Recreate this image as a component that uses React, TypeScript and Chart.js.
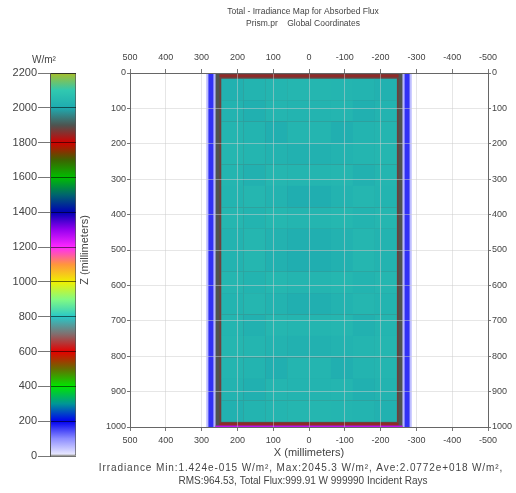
import React, { useEffect, useRef } from 'react';
import { Chart, registerables } from 'chart.js';

Chart.register(...registerables);

// ---------- texts ----------
const titleLines = ['Total - Irradiance Map for Absorbed Flux', 'Prism.pr    Global Coordinates'];
const footerLines = [
  'Irradiance Min:1.424e-015 W/m², Max:2045.3 W/m², Ave:2.0772e+018 W/m²,',
  'RMS:964.53, Total Flux:999.91 W 999990 Incident Rays',
];
const xAxisTitle = 'X (millimeters)';
const zAxisTitle = 'Z (millimeters)';
const colorbarUnit = 'W/m²';

// ---------- axes ----------
const xRange = [-500, 500];
const zRange = [0, 1000];
const xStep = 100;
const zStep = 100;
const colorbarRange = [0, 2200];
const colorbarStep = 200;

// ---------- colormap (irradiance W/m²) ----------
const colormapValues = [0, 100, 200, 300, 400, 500, 600, 700, 800, 900, 1000, 1100, 1200, 1300, 1400, 1500, 1600, 1700, 1800, 1900, 2000, 2100, 2200];
const colormapColors = [
  '#f2f2ff', '#8c8cff', '#0000f0', '#009696', '#00e600', '#646e00', '#e60000', '#826e6e',
  '#28c8c8', '#82fa82', '#f0f000', '#ff963c', '#ff28ff', '#9600f0', '#0000b4', '#00646e',
  '#00be00', '#3c6400', '#d20000', '#4e5450', '#1eabb0', '#30c8b0', '#aabe28',
];

// ---------- irradiance map data (mm, W/m²) ----------
// Nested vertical bands (half-width in X), each spanning a Z range, with a value
const bandHalfWidths = [287, 281, 267, 261, 250];
const bandZStart = [0, 0, 0, 0, 4];
const bandZEnd = [1000, 1000, 1000, 1000, 996];
const bandValues = [50, 165, 60, 1900, 1875];
// Red dotted edges along top and bottom of the detector
const edgeHalfWidth = 250;
const edgeZStart = [4, 989];
const edgeZEnd = [11, 996];
const edgeValues = [1850, 1850];
// Bottom edge strip
const bottomStripHalfWidth = 261;
const bottomStripZ = [996, 1000];
const bottomStripValue = 1260;
// Interior detector region
const interiorHalfWidth = 245;
const interiorZ = [16, 985];
const interiorValues = [
  [2020, 2030, 2035, 2038, 2038, 2035, 2030, 2020],
  [2028, 2018, 2035, 2030, 2030, 2035, 2018, 2028],
  [2035, 2030, 2015, 2035, 2035, 2015, 2030, 2035],
  [2038, 2035, 2028, 2020, 2020, 2028, 2035, 2038],
  [2035, 2022, 2038, 2035, 2035, 2038, 2022, 2035],
  [2030, 2038, 2028, 2012, 2012, 2028, 2038, 2030],
  [2038, 2030, 2040, 2035, 2035, 2040, 2030, 2038],
  [2028, 2038, 2025, 2015, 2015, 2025, 2038, 2028],
  [2028, 2038, 2022, 2012, 2012, 2022, 2038, 2028],
  [2038, 2030, 2040, 2035, 2035, 2040, 2030, 2038],
  [2030, 2038, 2028, 2015, 2015, 2028, 2038, 2030],
  [2035, 2022, 2038, 2035, 2035, 2038, 2022, 2035],
  [2038, 2035, 2028, 2020, 2020, 2028, 2035, 2038],
  [2035, 2030, 2015, 2035, 2035, 2015, 2030, 2035],
  [2028, 2018, 2035, 2030, 2030, 2035, 2018, 2028],
  [2020, 2030, 2035, 2038, 2038, 2035, 2030, 2020],
];

// ---------- helpers ----------
const FONT = '"Liberation Sans", Arial, sans-serif';
const TEXT = '#444';

function hexToRgb(h: string): number[] {
  const n = parseInt(h.slice(1), 16);
  return [(n >> 16) & 255, (n >> 8) & 255, n & 255];
}
function colorFor(v: number): string {
  const vs = colormapValues;
  if (v <= vs[0]) return colormapColors[0];
  for (let i = 1; i < vs.length; i++) {
    if (v <= vs[i]) {
      const t = (v - vs[i - 1]) / (vs[i] - vs[i - 1]);
      const a = hexToRgb(colormapColors[i - 1]);
      const b = hexToRgb(colormapColors[i]);
      const c = a.map((av, k) => Math.round(av + (b[k] - av) * t));
      return `rgb(${c[0]},${c[1]},${c[2]})`;
    }
  }
  return colormapColors[colormapColors.length - 1];
}

const mapPlugin = {
  id: 'irradianceMap',
  beforeDraw(chart: any) {
    const { ctx, chartArea: a } = chart;
    const x = chart.scales.x;
    const y = chart.scales.y;
    ctx.save();
    ctx.beginPath();
    ctx.rect(a.left, a.top, a.right - a.left, a.bottom - a.top);
    ctx.clip();
    const rect = (x1: number, x2: number, z1: number, z2: number, v: number) => {
      const px1 = x.getPixelForValue(x1);
      const px2 = x.getPixelForValue(x2);
      const py1 = y.getPixelForValue(z1);
      const py2 = y.getPixelForValue(z2);
      ctx.fillStyle = colorFor(v);
      ctx.fillRect(Math.min(px1, px2), Math.min(py1, py2), Math.abs(px2 - px1), Math.abs(py2 - py1));
    };
    bandHalfWidths.forEach((hw, i) => rect(hw, -hw, bandZStart[i], bandZEnd[i], bandValues[i]));
    edgeValues.forEach((v, i) => rect(edgeHalfWidth, -edgeHalfWidth, edgeZStart[i], edgeZEnd[i], v));
    rect(bottomStripHalfWidth, -bottomStripHalfWidth, bottomStripZ[0], bottomStripZ[1], bottomStripValue);
    const rows = interiorValues.length;
    const cols = interiorValues[0].length;
    const dz = (interiorZ[1] - interiorZ[0]) / rows;
    const dx = (2 * interiorHalfWidth) / cols;
    for (let r = 0; r < rows; r++) {
      for (let c = 0; c < cols; c++) {
        const x1 = interiorHalfWidth - c * dx;
        const z1 = interiorZ[0] + r * dz;
        rect(x1, x1 - dx - 0.5, z1, z1 + dz + 0.5, interiorValues[r][c]);
      }
    }
    ctx.restore();
  },
};

const textPlugin = {
  id: 'texts',
  afterDraw(chart: any) {
    const { ctx } = chart;
    ctx.save();
    ctx.fillStyle = TEXT;
    ctx.textAlign = 'center';
    ctx.textBaseline = 'middle';
    const cx = 303;
    ctx.font = `8.5px ${FONT}`;
    ctx.fillText(titleLines[0], cx, 12);
    ctx.fillText(titleLines[1], cx, 24);
    ctx.font = `10px ${FONT}`;
    (ctx as any).letterSpacing = '0.9px';
    ctx.fillText(footerLines[0], 301, 468);
    (ctx as any).letterSpacing = '0px';
    ctx.fillText(footerLines[1], cx, 481);
    ctx.restore();
  },
};

const unitPlugin = {
  id: 'unit',
  afterDraw(chart: any) {
    const { ctx } = chart;
    ctx.save();
    ctx.fillStyle = TEXT;
    ctx.textAlign = 'center';
    ctx.textBaseline = 'middle';
    ctx.font = `10px ${FONT}`;
    ctx.fillText(colorbarUnit, 44, 60);
    ctx.restore();
  },
};

const tickFmt = (v: any) => String(v);

function axisX(position: 'top' | 'bottom', height: number, withTitle: boolean) {
  return {
    type: 'linear',
    position,
    min: xRange[0],
    max: xRange[1],
    reverse: true,
    ticks: { stepSize: xStep, callback: tickFmt, color: TEXT, font: { family: FONT, size: 9 }, padding: position === 'top' ? 6 : 4, maxRotation: 0, autoSkip: false },
    grid: { color: position === 'bottom' ? 'rgba(205,205,205,0.5)' : 'rgba(0,0,0,0)', tickColor: '#777', tickLength: 4 },
    border: { color: '#666', width: 1 },
    title: withTitle ? { display: true, text: xAxisTitle, color: TEXT, font: { family: FONT, size: 11 }, padding: 0 } : { display: false },
    afterFit: (s: any) => { s.height = height; },
  };
}
function axisZ(position: 'left' | 'right', width: number, withTitle: boolean) {
  return {
    type: 'linear',
    position,
    min: zRange[0],
    max: zRange[1],
    reverse: true,
    ticks: { stepSize: zStep, callback: tickFmt, color: TEXT, font: { family: FONT, size: 9 }, padding: 1, autoSkip: false },
    grid: { color: position === 'left' ? 'rgba(205,205,205,0.5)' : 'rgba(0,0,0,0)', tickColor: '#777', tickLength: 3 },
    border: { color: '#666', width: 1 },
    title: withTitle ? { display: true, text: zAxisTitle, color: TEXT, font: { family: FONT, size: 11 }, padding: 0 } : { display: false },
    afterFit: (s: any) => { s.width = width; },
  };
}

export default function App() {
  const mainRef = useRef<HTMLCanvasElement>(null);
  const barRef = useRef<HTMLCanvasElement>(null);

  useEffect(() => {
    const main = new Chart(mainRef.current as HTMLCanvasElement, {
      type: 'scatter',
      data: { datasets: [] },
      options: {
        animation: false,
        responsive: false,
        maintainAspectRatio: false,
        layout: { padding: { top: 50, bottom: 33, left: 78, right: 0 } },
        plugins: { legend: { display: false }, tooltip: { enabled: false }, title: { display: false } },
        scales: {
          x: axisX('bottom', 33, true),
          x2: axisX('top', 23, false),
          y: axisZ('left', 52, true),
          y2: axisZ('right', 28, false),
        } as any,
      },
      plugins: [mapPlugin, textPlugin],
    } as any);

    const bar = new Chart(barRef.current as HTMLCanvasElement, {
      type: 'bar',
      data: {
        labels: [''],
        datasets: [
          {
            data: [[colorbarRange[0], colorbarRange[1]]],
            backgroundColor: (c: any) => {
              const chart = c.chart;
              const ys = chart.scales.y;
              if (!ys || !chart.chartArea) return colormapColors[0];
              const g = chart.ctx.createLinearGradient(0, ys.getPixelForValue(colorbarRange[0]), 0, ys.getPixelForValue(colorbarRange[1]));
              colormapValues.forEach((v, i) => g.addColorStop((v - colorbarRange[0]) / (colorbarRange[1] - colorbarRange[0]), colormapColors[i]));
              return g;
            },
            borderColor: '#555',
            borderWidth: 1,
            borderSkipped: false,
            barPercentage: 1,
            categoryPercentage: 1,
          },
        ],
      },
      options: {
        animation: false,
        responsive: false,
        maintainAspectRatio: false,
        layout: { padding: { top: 73, bottom: 37, left: 0, right: 24 } },
        plugins: { legend: { display: false }, tooltip: { enabled: false } },
        scales: {
          x: { display: false },
          y: {
            min: colorbarRange[0],
            max: colorbarRange[1],
            ticks: { stepSize: colorbarStep, callback: tickFmt, color: TEXT, font: { family: FONT, size: 11 }, padding: 1, autoSkip: false },
            grid: { color: 'rgba(0,0,0,0.55)', tickColor: '#777', tickLength: 12, z: 1 },
            border: { color: '#555', z: 1 },
            afterFit: (s: any) => { s.width = 50; },
          },
        } as any,
      },
      plugins: [unitPlugin],
    } as any);

    return () => {
      main.destroy();
      bar.destroy();
    };
  }, []);

  return (
    <div style={{ position: 'fixed', left: 0, top: 0, width: 516, height: 493, background: '#fff' }}>
      <canvas ref={barRef} width={100} height={493} style={{ position: 'absolute', left: 0, top: 0, width: 100, height: 493 }} />
      <canvas ref={mainRef} width={516} height={493} style={{ position: 'absolute', left: 0, top: 0, width: 516, height: 493 }} />
    </div>
  );
}
